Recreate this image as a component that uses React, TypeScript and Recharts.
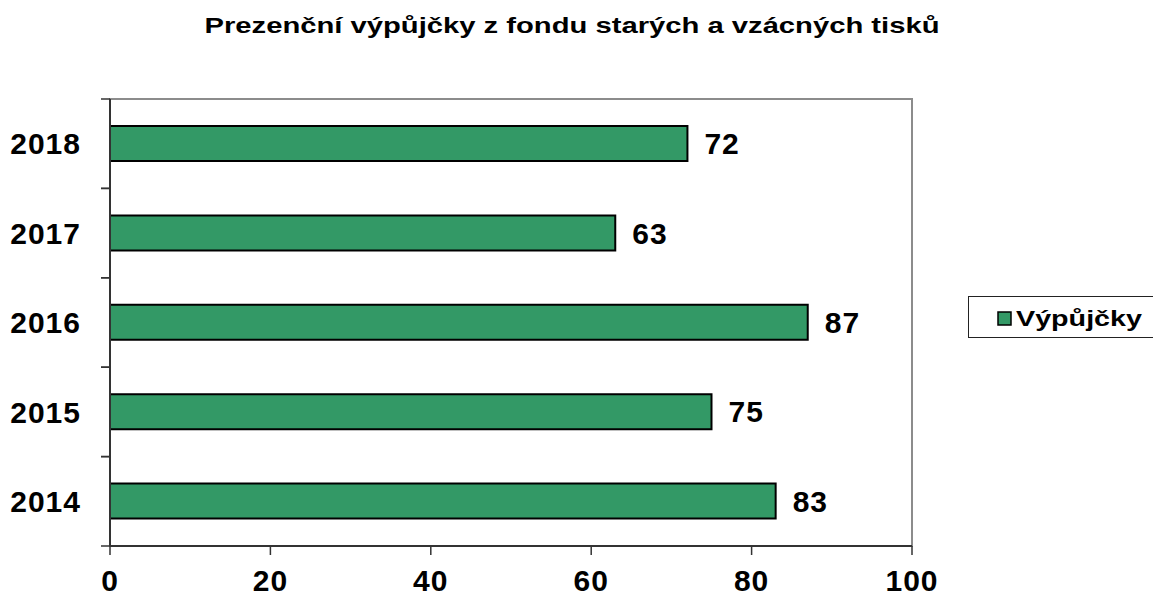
import {
  Bar,
  BarChart,
  LabelList,
  Legend,
  ReferenceArea,
  XAxis,
  YAxis,
} from "recharts";

const YEARS = ["2014", "2015", "2016", "2017", "2018"];
const LOANS = [83, 75, 87, 63, 72];
const X_TICKS = [0, 20, 40, 60, 80, 100];

const TITLE = "Prezenční výpůjčky z fondu starých a vzácných tisků";
const SERIES_NAME = "Výpůjčky";

const FONT = "'Liberation Sans', Arial, sans-serif";
const GREEN = "#339966";
const AXIS = "#333333";
const FRAME = "#8c8c8c";

const labelStyle = { fontFamily: FONT, fontWeight: 700, fontSize: 30, letterSpacing: 1, fill: "#000" };

// Year label plus the little tick marks, which sit on the band edges (Excel style)
// rather than at the band centre where recharts puts them.
function YearTick(props: any) {
  const { x, y, payload } = props;
  const half = payload?.offset ?? 0;
  return (
    <g>
      <line x1={x} x2={x + 9} y1={y - half} y2={y - half} stroke={AXIS} strokeWidth={1.5} />
      <line x1={x} x2={x + 9} y1={y + half} y2={y + half} stroke={AXIS} strokeWidth={1.5} />
      <text x={x - 20} y={y} dy="0.355em" textAnchor="end" style={labelStyle}>
        {payload.value}
      </text>
    </g>
  );
}

function LegendBox() {
  return (
    <div style={{ border: "1px solid #222", width: 190, height: 42, boxSizing: "border-box", background: "#fff" }}>
      <svg width={188} height={40}>
        <rect x={29} y={15} width={13} height={13} fill={GREEN} stroke="#000" strokeWidth={1.5} />
        <text
          x={47}
          y={29}
          fontFamily={FONT}
          fontWeight={700}
          fontSize={22}
          textLength={126}
          lengthAdjust="spacingAndGlyphs"
        >
          {SERIES_NAME}
        </text>
      </svg>
    </div>
  );
}

export default function App() {
  const data = YEARS.map((year, i) => ({ year, loans: LOANS[i] }));

  return (
    <div style={{ position: "absolute", left: 0, top: 0, width: 1153, height: 596, background: "#fff", fontFamily: FONT }}>
      <BarChart
        layout="vertical"
        width={1153}
        height={596}
        data={data}
        margin={{ top: 99, right: 241, bottom: 0, left: 0 }}
      >
        <text
          x={572}
          y={33}
          textAnchor="middle"
          fontFamily={FONT}
          fontWeight={700}
          fontSize={22}
          textLength={735}
          lengthAdjust="spacingAndGlyphs"
        >
          {TITLE}
        </text>
        {/* grey plot-area frame; left and bottom edges are covered by the axes */}
        <ReferenceArea x1={0} x2={100} fill="none" stroke={FRAME} strokeWidth={2} />
        <XAxis
          type="number"
          domain={[0, 100]}
          ticks={X_TICKS}
          interval={0}
          height={50}
          tickSize={9}
          tickMargin={15}
          axisLine={{ stroke: AXIS, strokeWidth: 2 }}
          tickLine={{ stroke: AXIS, strokeWidth: 1.5 }}
          tick={labelStyle}
        />
        <YAxis
          type="category"
          dataKey="year"
          reversed
          interval={0}
          width={110}
          tickSize={9}
          tickMargin={0}
          tickLine={false}
          axisLine={{ stroke: AXIS, strokeWidth: 2 }}
          tick={<YearTick />}
        />
        <Bar
          dataKey="loans"
          name={SERIES_NAME}
          fill={GREEN}
          stroke="#000"
          strokeWidth={2}
          barSize={35}
          isAnimationActive={false}
        >
          <LabelList dataKey="loans" position="right" offset={17} style={labelStyle} />
        </Bar>
        <Legend
          layout="horizontal"
          align="center"
          verticalAlign="middle"
          content={() => <LegendBox />}
          wrapperStyle={{ left: 968, top: 296, width: 190, height: 42 }}
        />
      </BarChart>
    </div>
  );
}
